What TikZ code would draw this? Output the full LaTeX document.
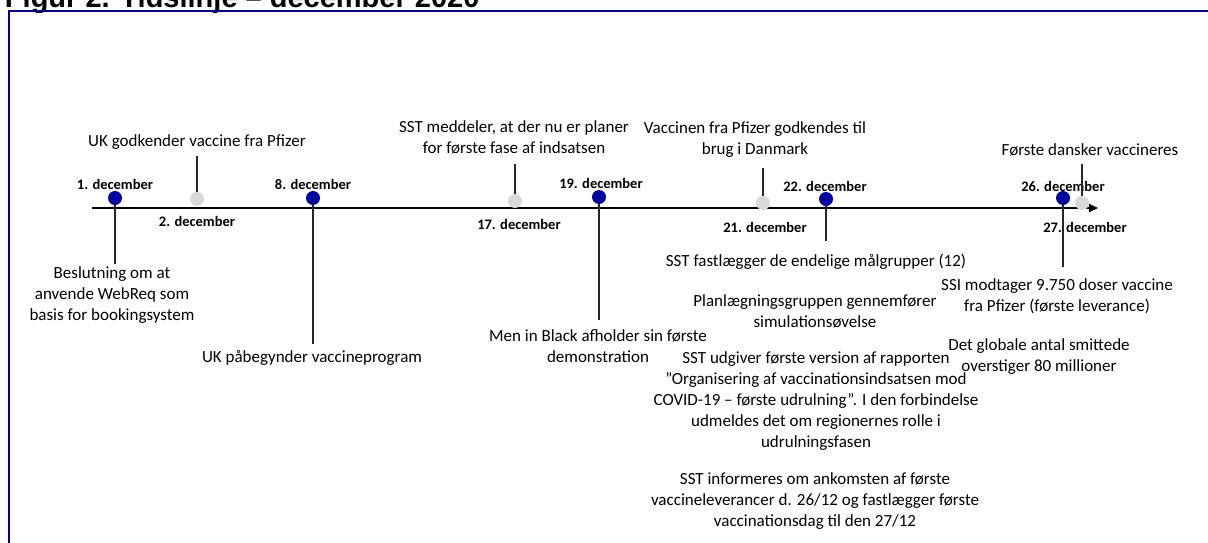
\documentclass[tikz,border=0pt]{standalone}
\usepackage{fontspec}
\setmainfont{Carlito}
\newfontfamily\titlefont{Liberation Sans}
\usetikzlibrary{arrows.meta}
\definecolor{frameblue}{RGB}{0,0,160}
\definecolor{dotblue}{RGB}{0,0,160}
\definecolor{dotgray}{RGB}{217,217,217}

\begin{document}
\begin{tikzpicture}[x=1pt,y=-1pt,
  every node/.style={inner sep=0pt, outer sep=0pt},
  evt/.style={align=center, font=\fontsize{17}{21}\selectfont},
  datelbl/.style={font=\fontsize{14.5}{17}\selectfont\bfseries},
  bluedot/.style={circle, fill=dotblue, minimum size=14pt},
  graydot/.style={circle, fill=dotgray, minimum size=14pt},
  conn/.style={draw=black!85, line width=1.2pt},
  timeaxis/.style={line width=2pt, -{Triangle[length=9pt,width=8pt]}}
]
\useasboundingbox (0,0) rectangle (1208,543);

% heading and frame
\node[anchor=base west, font=\titlefont\bfseries\fontsize{29}{34}\selectfont] (title) at (5,8) {Figur 2. Tidslinje – december 2020};
\draw[frameblue, line width=2.2pt] (9,560) -- (9,11) -- (1220,11);

% time axis
\coordinate (ax0) at (92,208);
\coordinate (ax1) at (1098,208);
\draw[timeaxis] (ax0) -- (ax1);

% events
\node[evt] (t1) at (112,295) {Beslutning om at\\anvende WebReq som\\basis for bookingsystem};
\node[evt] (t2) at (197,142) {UK godkender vaccine fra Pfizer};
\node[evt] (t8) at (312,358) {UK påbegynder vaccineprogram};
\node[evt] (t17) at (514,137) {SST meddeler, at der nu er planer\\for første fase af indsatsen};
\node[evt] (t19) at (598,346.5) {Men in Black afholder sin første\\demonstration};
\node[evt] (t21) at (755,140) {Vaccinen fra Pfizer godkendes til\\brug i Danmark};
\node[evt] (t22) at (816,262) {SST fastlægger de endelige målgrupper (12)};
\node[evt] (tplan) at (815,311) {Planlægningsgruppen gennemfører\\simulationsøvelse};
\node[evt] (trep) at (816,401.5) {SST udgiver første version af rapporten\\”Organisering af vaccinationsindsatsen mod\\COVID-19 – første udrulning”. I den forbindelse\\udmeldes det om regionernes rolle i\\udrulningsfasen};
\node[evt] (tinfo) at (815,501.5) {SST informeres om ankomsten af første\\vaccineleverancer d. 26/12 og fastlægger første\\vaccinationsdag til den 27/12};
\node[evt] (t26) at (1057,296) {SSI modtager 9.750 doser vaccine\\fra Pfizer (første leverance)};
\node[evt] (tglob) at (1039,357) {Det globale antal smittede\\overstiger 80 millioner};
\node[evt] (t27) at (1090,150) {Første dansker vaccineres};

% date labels
\node[datelbl] (l1) at (115,184) {1. december};
\node[datelbl] (l2) at (197,221) {2. december};
\node[datelbl] (l8) at (313,184) {8. december};
\node[datelbl] (l17) at (519,224) {17. december};
\node[datelbl] (l19) at (601,183) {19. december};
\node[datelbl] (l21) at (765,227) {21. december};
\node[datelbl] (l22) at (825,186) {22. december};
\node[datelbl] (l26) at (1063,186) {26. december};
\node[datelbl] (l27) at (1085,227) {27. december};

% marker positions on the axis
\coordinate (p1) at (115,198);
\coordinate (p2) at (197,199);
\coordinate (p8) at (313,198);
\coordinate (p17) at (515,201);
\coordinate (p19) at (599,197);
\coordinate (p21) at (763,203);
\coordinate (p22) at (826,199);
\coordinate (p26) at (1063,198);
\coordinate (p27) at (1082,203);

% leader lines
\draw[conn, shorten >=3pt] (p1) -- (p1 |- t1.north);
\draw[conn, shorten >=7pt] (p2) -- (p2 |- t2.south);
\draw[conn, shorten >=7pt] (p8) -- (p8 |- t8.north);
\draw[conn, shorten >=10pt] (p17) -- (p17 |- t17.south);
\draw[conn, shorten >=10pt] (p19) -- (p19 |- t19.north);
\draw[conn, shorten >=10pt] (p21) -- (p21 |- t21.south);
\draw[conn, shorten >=13pt] (p22) -- (p22 |- t22.north);
\draw[conn, shorten >=11pt] (p26) -- (p26 |- t26.north);
\draw[conn, shorten >=8pt] (p27) -- (p27 |- t27.south);

% markers
\node[bluedot] (d1) at (p1) {};
\node[graydot] (d2) at (p2) {};
\node[bluedot] (d8) at (p8) {};
\node[graydot] (d17) at (p17) {};
\node[bluedot] (d19) at (p19) {};
\node[graydot] (d21) at (p21) {};
\node[bluedot] (d22) at (p22) {};
\node[bluedot] (d26) at (p26) {};
\node[graydot] (d27) at (p27) {};
\end{tikzpicture}
\end{document}
